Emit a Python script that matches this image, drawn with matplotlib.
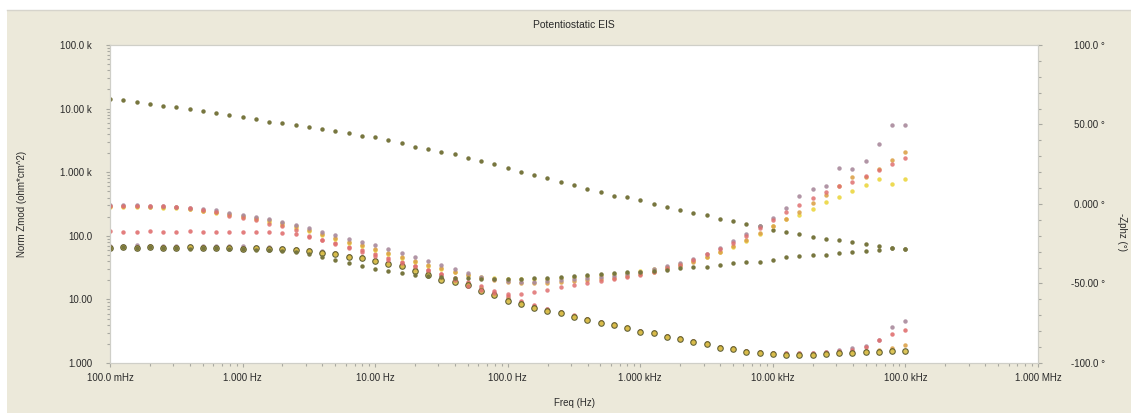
import matplotlib
matplotlib.use("Agg")
import matplotlib.pyplot as plt
from matplotlib.ticker import FixedLocator, NullFormatter, LogLocator, MultipleLocator
from matplotlib.patches import Rectangle
from matplotlib.lines import Line2D

# ---------------- data ----------------
freq = [0.1, 0.1259, 0.1585, 0.1995, 0.2512, 0.3162, 0.3981, 0.5012, 0.631, 0.7943,
        1.0, 1.259, 1.585, 1.995, 2.512, 3.162, 3.981, 5.012, 6.31, 7.943,
        10.0, 12.59, 15.85, 19.95, 25.12, 31.62, 39.81, 50.12, 63.1, 79.43,
        100.0, 125.9, 158.5, 199.5, 251.2, 316.2, 398.1, 501.2, 631.0, 794.3,
        1000.0, 1259.0, 1585.0, 1995.0, 2512.0, 3162.0, 3981.0, 5012.0, 6310.0, 7943.0,
        10000.0, 12590.0, 15850.0, 19950.0, 25120.0, 31620.0, 39810.0, 50120.0, 63100.0, 79430.0,
        100000.0]

# Norm Zmod (ohm*cm^2)
zmod_olive = [14160, 13650, 12700, 11800, 11000, 10600, 9860, 9170, 8530, 7930,
              7380, 6860, 6150, 5940, 5520, 5140, 4780, 4440, 4130, 3710,
              3580, 3210, 2880, 2490, 2320, 2080, 1930, 1670, 1500, 1350,
              1160, 1010, 903, 811, 702, 630, 544, 488, 422, 407,
              366, 316, 284, 255, 228, 212, 184, 171, 153, 143,
              123, 115, 107, 95.7, 89.1, 85.9, 80.0, 74.4, 69.2, 64.3,
              62.0]
zmod_yellow = [64.3, 66.7, 64.3, 66.7, 64.3, 64.3, 66.7, 64.3, 64.3, 64.3,
               62.0, 64.3, 62.0, 62.0, 59.8, 57.7, 53.7, 51.8, 46.4, 44.8,
               40.2, 36.1, 33.5, 28.0, 24.2, 20.2, 18.8, 16.8, 13.6, 11.7,
               9.44, 8.47, 7.33, 6.58, 6.11, 5.29, 4.74, 4.25, 3.96, 3.55,
               3.07, 2.96, 2.56, 2.38, 2.14, 1.99, 1.72, 1.66, 1.49, 1.44,
               1.39, 1.34, 1.34, 1.34, 1.39, 1.44, 1.44, 1.49, 1.49, 1.55,
               1.55]
zmod_orange = [66, 67, 66, 68, 67, 66, 67, 66, 65, 66,
               64, 65, 64, 63, 62, 60, 56, 54, 49, 47,
               42, 38, 35, 30, 26, 22, 20, 17.5, 14.5, 12.3,
               10.0, 8.9, 7.7, 6.9, 6.3, 5.5, 4.9, 4.4, 4.1, 3.7,
               3.2, 3.05, 2.65, 2.45, 2.2, 2.05, 1.78, 1.7, 1.53, 1.47,
               1.42, 1.37, 1.37, 1.38, 1.42, 1.48, 1.5, 1.56, 1.6, 1.7,
               1.95]
zmod_red = [117, 116, 116, 117, 116, 116, 117, 116, 115, 115,
            116, 115, 113, 111, 107, 95.7, 85.9, 77.1, 66.7, 59.8,
            51.8, 44.8, 38.7, 33.5, 29.0, 25.1, 21.7, 18.8, 16.3, 13.6,
            11.3, 9.44, 8.17, 7.06, 6.34, 5.69, 4.92, 4.41, 3.96, 3.55,
            3.18, 2.96, 2.66, 2.38, 2.22, 1.99, 1.79, 1.66, 1.55, 1.49,
            1.44, 1.44, 1.44, 1.44, 1.49, 1.55, 1.60, 1.79, 2.30, 2.86,
            3.30]
zmod_purple = [70, 70, 71, 70, 70, 69, 70, 69, 69, 68,
               68, 67, 66, 65, 63, 60, 57, 53, 49, 46,
               42, 38, 34, 30, 26.5, 23, 20, 17.8, 15, 12.8,
               10.5, 9.2, 7.9, 7.0, 6.3, 5.5, 4.9, 4.4, 4.0, 3.6,
               3.2, 3.0, 2.65, 2.45, 2.2, 2.05, 1.8, 1.7, 1.55, 1.5,
               1.45, 1.42, 1.42, 1.45, 1.5, 1.58, 1.7, 1.85, 2.3, 3.7,
               4.6]

# -Zphz (degrees)
phz_olive = [-27.7, -27.1, -27.7, -27.1, -27.7, -27.7, -28.3, -27.7, -27.7, -28.3,
             -28.3, -28.9, -28.9, -29.6, -30.2, -31.4, -33.3, -35.2, -37.1, -39.0,
             -40.9, -42.1, -43.4, -44.7, -45.3, -45.9, -46.5, -46.5, -47.2, -47.2,
             -47.2, -47.2, -46.5, -46.5, -45.9, -45.3, -44.7, -44.0, -43.4, -42.8,
             -42.8, -42.1, -41.5, -40.3, -39.6, -39.6, -38.4, -37.1, -36.5, -36.5,
             -35.2, -33.3, -32.7, -32.1, -32.1, -30.8, -30.2, -29.6, -28.9, -27.7,
             -28.3]
phz_red = [-1.3, -1.3, -1.3, -1.3, -1.3, -1.9, -2.5, -3.8, -5.0, -7.5,
           -8.8, -10.1, -12.6, -13.8, -16.4, -20.1, -22.6, -25.2, -27.7, -30.2,
           -32.7, -35.2, -37.1, -39.0, -41.5, -44.0, -47.8, -51.6, -54.1, -56.0,
           -56.6, -56.6, -55.3, -54.1, -52.2, -50.9, -49.7, -48.4, -47.2, -45.9,
           -44.7, -42.8, -40.3, -38.4, -35.2, -31.4, -28.3, -24.5, -20.1, -15.1,
           -10.1, -5.0, -0.6, 3.8, 7.5, 11.3, 13.8, 17.6, 21.4, 25.2,
           28.9]
phz_purple = [-0.6, -0.6, -0.6, -1.3, -1.3, -1.9, -2.5, -3.1, -3.8, -5.7,
              -6.9, -8.2, -9.4, -11.3, -13.2, -15.1, -17.6, -19.5, -22.0, -23.9,
              -25.8, -28.3, -30.8, -33.3, -35.8, -38.4, -40.9, -43.4, -45.9, -47.2,
              -48.4, -49.1, -49.1, -48.4, -47.8, -47.2, -46.5, -45.9, -45.3, -44.0,
              -42.8, -40.9, -39.0, -37.1, -34.6, -31.4, -27.7, -23.3, -18.9, -13.8,
              -8.8, -2.5, 5.0, 9.4, 11.3, 22.6, 22.0, 27.0, 37.7, 49.7,
              49.7]
phz_orange = [-1.3, -1.3, -1.3, -1.9, -1.9, -1.9, -3.1, -4.4, -5.0, -6.3,
              -7.5, -8.8, -10.1, -11.9, -13.8, -16.4, -18.9, -21.4, -23.9, -25.8,
              -28.3, -30.8, -33.3, -35.8, -38.4, -40.3, -42.8, -44.7, -46.5, -47.8,
              -49.1, -49.7, -49.7, -49.7, -49.1, -48.4, -47.8, -47.2, -46.5, -45.3,
              -44.0, -42.8, -40.9, -39.0, -36.5, -33.3, -30.2, -26.4, -22.6, -18.2,
              -13.8, -9.4, -5.0, 0.6, 5.7, 11.3, 17.0, 17.0, 22.0, 27.7,
              32.7]
phz_yellow = [-1.9, -1.9, -1.9, -1.9, -2.5, -2.5, -3.1, -4.4, -5.7, -6.9,
              -8.2, -9.4, -11.3, -13.2, -15.1, -17.0, -19.5, -22.0, -24.5, -26.4,
              -28.9, -31.4, -34.0, -36.5, -39.0, -40.9, -42.8, -44.7, -45.9, -46.5,
              -47.2, -47.2, -47.2, -47.2, -46.5, -45.9, -45.3, -44.7, -44.0, -43.4,
              -42.1, -40.9, -39.6, -37.7, -35.8, -33.3, -30.2, -27.0, -23.3, -18.9,
              -13.8, -9.4, -6.9, -3.1, 1.3, 4.4, 8.2, 11.9, 15.7, 12.6,
              15.7]

x_ticks = [0.1, 1, 10, 100, 1e3, 1e4, 1e5, 1e6]
x_labels = ["100.0 mHz", "1.000 Hz", "10.00 Hz", "100.0 Hz", "1.000 kHz",
            "10.00 kHz", "100.0 kHz", "1.000 MHz"]
y_ticks = [1, 10, 100, 1e3, 1e4, 1e5]
y_labels = ["1.000", "10.00", "100.0", "1.000 k", "10.00 k", "100.0 k"]
p_ticks = [-100, -50, 0, 50, 100]
p_labels = ["-100.0 \u00b0", "-50.00 \u00b0", "0.000 \u00b0", "50.00 \u00b0", "100.0 \u00b0"]

title = "Potentiostatic EIS"
x_title = "Freq (Hz)"
y_title = "Norm Zmod (ohm*cm^2)"
p_title = "-Zphz (\u00b0)"

# ---------------- styling ----------------
plt.rcParams["font.family"] = ["Liberation Sans", "DejaVu Sans"]
W, H = 1131, 413
BEIGE = "#ECE9DA"
TXT = "#2a2a2a"
TICK = "#a8a8a0"

C_OLIVE = "#77763f"
C_RED = "#e07070"
C_PURPLE = "#a98a9c"
C_ORANGE = "#dca24a"
C_YELLOW = "#ecd84a"

fig = plt.figure(figsize=(W / 100, H / 100), dpi=100, facecolor="white")
fig.patches.append(Rectangle((7 / W, 0), 1 - 7 / W, 1 - 10 / H, transform=fig.transFigure,
                             facecolor=BEIGE, edgecolor="none", zorder=-10))
fig.lines.append(Line2D([7 / W, 1], [1 - 10 / H, 1 - 10 / H], transform=fig.transFigure,
                        color="#d6d4cc", lw=1.0))

L, R, T, B = 110, 1038, 45, 363
ax = fig.add_axes([L / W, 1 - B / H, (R - L) / W, (B - T) / H])
ax.set_facecolor("white")
ax.set_xscale("log")
ax.set_yscale("log")
ax.set_xlim(0.1, 1e6)
ax.set_ylim(1, 1e5)

axp = ax.twinx()
axp.set_ylim(-100, 100)

for a in (ax, axp):
    for s in a.spines.values():
        s.set_color("#cfcfc8")
        s.set_linewidth(0.8)

small = dict(ls="none", marker="o", ms=3.2, mew=0)
big = dict(ls="none", marker="o", ms=4.0, mew=0.8)

# Zmod
ax.plot(freq, zmod_purple, color=C_PURPLE, alpha=0.9, **small)
ax.plot(freq, zmod_red, color=C_RED, alpha=0.9, **small)
ax.plot(freq, zmod_orange, color=C_ORANGE, alpha=0.9, **small)
ax.plot(freq, zmod_yellow, mfc="#d9bf48", mec="#55552c", alpha=0.9, **big)
ax.plot(freq, zmod_olive, color=C_OLIVE, **small)

# phase
axp.plot(freq, phz_yellow, color=C_YELLOW, alpha=0.95, **small)
axp.plot(freq, phz_orange, color=C_ORANGE, alpha=0.9, **small)
axp.plot(freq, phz_purple, color=C_PURPLE, alpha=0.9, **small)
axp.plot(freq, phz_red, color=C_RED, alpha=0.85, **small)
axp.plot(freq, phz_olive, color=C_OLIVE, **small)

# ticks
ax.xaxis.set_major_locator(FixedLocator(x_ticks))
ax.set_xticklabels(x_labels)
ax.xaxis.set_minor_locator(LogLocator(base=10, subs=range(2, 10), numticks=20))
ax.xaxis.set_minor_formatter(NullFormatter())
ax.yaxis.set_major_locator(FixedLocator(y_ticks))
ax.set_yticklabels(y_labels)
ax.yaxis.set_minor_locator(LogLocator(base=10, subs=range(2, 10), numticks=20))
ax.yaxis.set_minor_formatter(NullFormatter())

axp.yaxis.set_major_locator(FixedLocator(p_ticks))
axp.set_yticklabels(p_labels)
axp.yaxis.set_minor_locator(MultipleLocator(10))

ax.tick_params(axis="x", which="major", direction="out", length=3, width=0.8, color=TICK,
               labelsize=7, labelcolor=TXT, pad=4.5)
ax.tick_params(axis="x", which="minor", direction="out", length=2, width=0.8, color=TICK)
ax.tick_params(axis="y", which="major", direction="out", length=3, width=0.8, color=TICK,
               labelsize=7, labelcolor=TXT, pad=10)
ax.tick_params(axis="y", which="minor", direction="out", length=2, width=0.8, color=TICK)
axp.tick_params(axis="y", which="major", direction="out", length=3, width=0.8, color=TICK,
                labelsize=7, labelcolor=TXT, pad=45)
axp.tick_params(axis="y", which="minor", direction="out", length=2, width=0.8, color=TICK)
for lab in axp.get_yticklabels():
    lab.set_horizontalalignment("right")

fig.text(574 / W, 1 - 25 / H, title, ha="center", va="center", fontsize=7.5, color=TXT)
fig.text(574 / W, 1 - 403 / H, x_title, ha="center", va="center", fontsize=7, color=TXT)
fig.text(22 / W, 1 - 204 / H, y_title, ha="center", va="center", rotation=90,
         fontsize=7, color=TXT)
fig.text(1122 / W, 1 - 232 / H, p_title, ha="center", va="center", rotation=270,
         fontsize=7, color=TXT)

fig.savefig("out.png", dpi=100, facecolor=fig.get_facecolor())
